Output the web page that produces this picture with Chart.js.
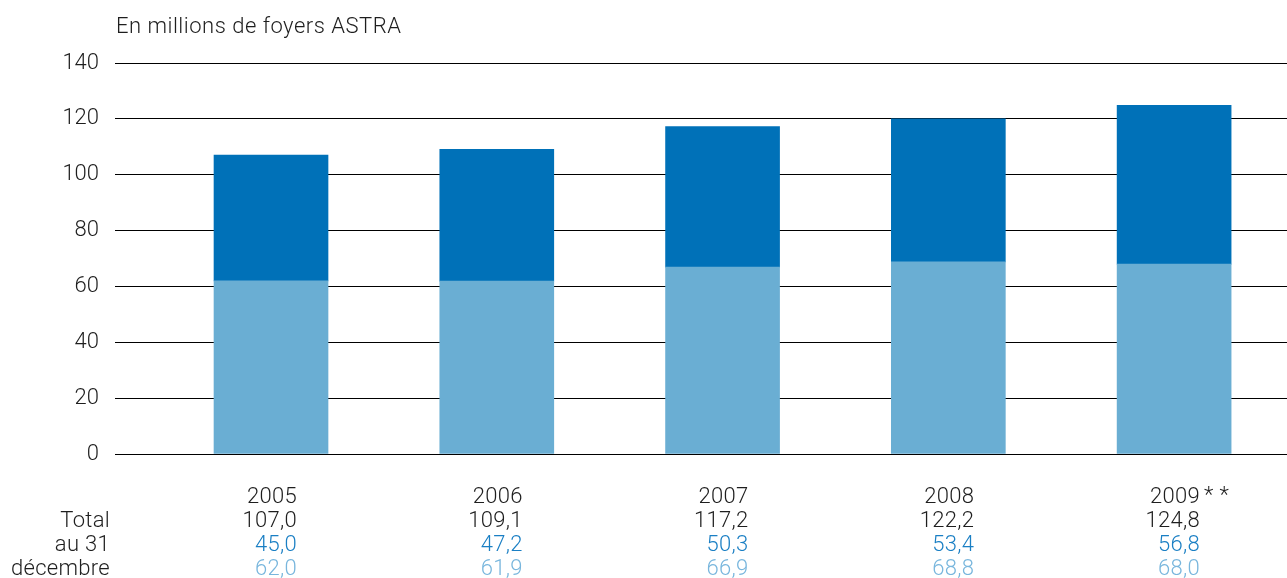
<!DOCTYPE html>
<html>
<head>
<meta charset="utf-8">
<script src="https://cdn.jsdelivr.net/npm/chart.js@4/dist/chart.umd.min.js"></script>
<style>
  html, body { margin: 0; padding: 0; background: #fff; }
  #wrap { width: 1287px; height: 578px; position: relative; }
</style>
</head>
<body>
<div id="wrap"><canvas id="astra-chart"></canvas></div>
<script>
// data
const years = [2005, 2006, 2007, 2008, 2009];
const yearLabels = ['2005', '2006', '2007', '2008', '2009'];
const lightBars = [62.0, 61.9, 66.9, 68.8, 68.0];
// dark segments as drawn (2008 bar stops at 120 in the original)
const darkBars = [45.0, 47.2, 50.3, 51.2, 56.8];
// printed table under the bars
const totalText = ['107,0', '109,1', '117,2', '122,2', '124,8'];
const darkText = ['45,0', '47,2', '50,3', '53,4', '56,8'];
const lightText = ['62,0', '61,9', '66,9', '68,8', '68,0'];
const rowLabels = ['Total', 'au 31', 'décembre'];
const yTicks = [0, 20, 40, 60, 80, 100, 120, 140];

const FONT = 'Roboto, "Liberation Sans", Arial, sans-serif';
const DARK = '#0071b8';
const LIGHT = '#6aaed3';
const TXT = '#1e1e1e';

const tablePlugin = {
    id: 'tablePlugin',
    afterDraw(chart) {
        const ctx = chart.ctx;
        const xs = chart.scales.x;
        ctx.save();
        ctx.font = '300 22px ' + FONT;
        ctx.textBaseline = 'alphabetic';

        // title
        ctx.letterSpacing = '0.5px';
        ctx.fillStyle = TXT;
        ctx.textAlign = 'left';
        ctx.fillText('En millions de foyers ASTRA', 116, 33);

        // row labels
        ctx.letterSpacing = '0.3px';
        ctx.textAlign = 'right';
        const rowY = [527, 551, 575];
        rowLabels.forEach((l, i) => ctx.fillText(l, 110, rowY[i]));

        years.forEach((yr, i) => {
            const x = xs.getPixelForValue(yr) + 26;
            ctx.textAlign = 'right';
            ctx.fillStyle = TXT;
            ctx.fillText(yearLabels[i], x, 503);
            ctx.fillText(totalText[i], x, 527);
            ctx.fillStyle = '#1a7fc4';
            ctx.fillText(darkText[i], x, 551);
            ctx.fillStyle = '#78b6dd';
            ctx.fillText(lightText[i], x, 575);
            if (i === years.length - 1) {
                ctx.fillStyle = TXT;
                ctx.textAlign = 'left';
                ctx.fillText('* *', x + 4, 502);
            }
        });
        ctx.restore();
    }
};

new Chart(document.getElementById('astra-chart'), {
    type: 'bar',
    data: {
        datasets: [
            {
                label: 'light',
                data: years.map((y, i) => ({ x: y, y: lightBars[i] })),
                backgroundColor: LIGHT,
                barThickness: 114
            },
            {
                label: 'dark',
                data: years.map((y, i) => ({ x: y, y: darkBars[i] })),
                backgroundColor: DARK,
                barThickness: 114
            }
        ]
    },
    options: {
        responsive: true,
        maintainAspectRatio: false,
        animation: false,
        layout: { padding: { top: 63, bottom: 124, left: 0, right: 0 } },
        plugins: {
            legend: { display: false },
            tooltip: { enabled: false }
        },
        scales: {
            x: {
                type: 'linear',
                min: 2004.309,
                max: 2009.5,
                offset: false,
                display: false,
                stacked: true
            },
            y: {
                stacked: true,
                min: 0,
                max: 140,
                afterFit(scale) { scale.width = 115; },
                afterBuildTicks(scale) { scale.ticks = yTicks.map(v => ({ value: v })); },
                border: { display: false },
                grid: { color: '#000', lineWidth: 1, drawTicks: false },
                ticks: {
                    padding: 16,
                    color: TXT,
                    font: { family: FONT, size: 22, weight: '300' }
                }
            }
        }
    },
    plugins: [tablePlugin]
});
</script>
</body>
</html>
